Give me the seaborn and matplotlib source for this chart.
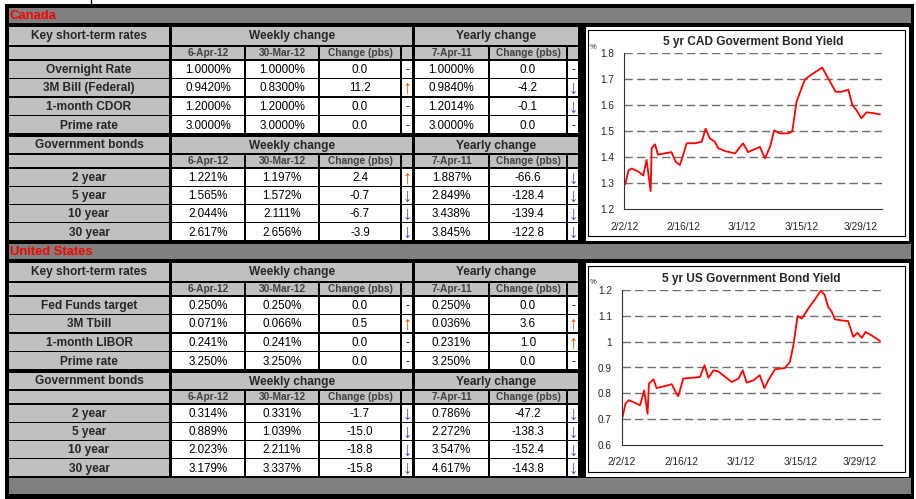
import pandas as pd
import matplotlib
matplotlib.use("Agg")
import matplotlib.pyplot as plt
from matplotlib.patches import Rectangle
from matplotlib.ticker import FuncFormatter
import seaborn as sns

sns.set_style("white")
plt.rcParams['font.family'] = ['Liberation Sans', 'DejaVu Sans']

# ---- table data ----
sub_headers = ["6-Apr-12", "30-Mar-12", "Change (pbs)", "", "7-Apr-11", "Change (pbs)", ""]

ca_short_names = ["Overnight Rate", "3M Bill (Federal)", "1-month CDOR", "Prime rate"]
ca_short_now = [1.0000, 0.9420, 1.2000, 3.0000]
ca_short_week = [1.0000, 0.8300, 1.2000, 3.0000]
ca_short_wchg = [0.0, 11.2, 0.0, 0.0]
ca_short_year = [1.0000, 0.9840, 1.2014, 3.0000]
ca_short_ychg = [0.0, -4.2, -0.1, 0.0]

ca_bond_names = ["2 year", "5 year", "10 year", "30 year"]
ca_bond_now = [1.221, 1.565, 2.044, 2.617]
ca_bond_week = [1.197, 1.572, 2.111, 2.656]
ca_bond_wchg = [2.4, -0.7, -6.7, -3.9]
ca_bond_year = [1.887, 2.849, 3.438, 3.845]
ca_bond_ychg = [-66.6, -128.4, -139.4, -122.8]

us_short_names = ["Fed Funds target", "3M Tbill", "1-month LIBOR", "Prime rate"]
us_short_now = [0.250, 0.071, 0.241, 3.250]
us_short_week = [0.250, 0.066, 0.241, 3.250]
us_short_wchg = [0.0, 0.5, 0.0, 0.0]
us_short_year = [0.250, 0.036, 0.231, 3.250]
us_short_ychg = [0.0, 3.6, 1.0, 0.0]

us_bond_names = ["2 year", "5 year", "10 year", "30 year"]
us_bond_now = [0.314, 0.889, 2.023, 3.179]
us_bond_week = [0.331, 1.039, 2.211, 3.337]
us_bond_wchg = [-1.7, -15.0, -18.8, -15.8]
us_bond_year = [0.786, 2.272, 3.547, 4.617]
us_bond_ychg = [-47.2, -138.3, -152.4, -143.8]

# ---- chart data (days after 2/2/12, yield %) ----
cad_days = [0.2, 1.0, 1.8, 3.3, 4.5, 5.3, 6.25, 6.5, 7.3, 8.0, 9.6, 11.2, 12.2, 13.2, 14.0,
            14.8, 16.8, 18.4, 19.3, 20.3, 21.5, 22.3, 23.9, 26.3, 28.2, 29.4, 32.2, 33.4,
            34.6, 35.6, 36.9, 38.9, 39.9, 40.9, 42.9, 44.9, 47.0, 48.4, 50.2, 51.6, 53.2,
            54.2, 55.1, 56.3, 57.5, 59.1, 60.7]
cad_yield = [1.296, 1.35, 1.357, 1.345, 1.33, 1.39, 1.27, 1.435, 1.45, 1.41, 1.415, 1.42,
             1.383, 1.37, 1.41, 1.454, 1.454, 1.46, 1.51, 1.473, 1.46, 1.435, 1.424, 1.415,
             1.454, 1.42, 1.44, 1.396, 1.44, 1.504, 1.492, 1.492, 1.50, 1.614, 1.70, 1.723,
             1.745, 1.704, 1.652, 1.652, 1.66, 1.60, 1.582, 1.55, 1.573, 1.57, 1.565]

us_days = [0.2, 0.9, 1.7, 3.1, 4.3, 5.3, 6.1, 6.4, 7.5, 8.2, 10.2, 11.8, 12.5, 13.3, 14.5,
           16.5, 18.4, 19.5, 20.4, 21.6, 22.7, 25.9, 27.5, 28.5, 29.4, 31.0, 32.5, 33.6,
           34.5, 36.1, 38.4, 39.6, 40.4, 41.4, 42.4, 43.9, 45.5, 46.9, 47.8, 48.6, 49.4,
           50.2, 51.8, 53.3, 54.5, 55.5, 56.5, 57.4, 58.8, 60.8]
us_yield = [0.708, 0.76, 0.773, 0.763, 0.753, 0.811, 0.72, 0.837, 0.854, 0.82, 0.828, 0.835,
            0.811, 0.788, 0.857, 0.86, 0.863, 0.909, 0.86, 0.889, 0.885, 0.844, 0.857, 0.889,
            0.841, 0.85, 0.87, 0.82, 0.85, 0.893, 0.898, 0.922, 0.986, 1.10, 1.09, 1.129,
            1.165, 1.20, 1.181, 1.135, 1.118, 1.087, 1.083, 1.08, 1.019, 1.035, 1.015, 1.038,
            1.025, 1.003]

tick_labels = ["2/2/12", "2/16/12", "3/1/12", "3/15/12", "3/29/12"]
start = pd.Timestamp("2012-02-02")

GRAY = "#c0c0c0"
DARK = "#808080"

fig = plt.figure(figsize=(9.16, 4.99), dpi=100)
bg = fig.add_axes([0, 0, 1, 1])
bg.set_xlim(0, 916)
bg.set_ylim(499, 0)
bg.axis("off")


def rect(x0, y0, x1, y1, fc, ec="none", lw=0):
    bg.add_patch(Rectangle((x0, y0), x1 - x0, y1 - y0, facecolor=fc, edgecolor=ec, linewidth=lw))


rect(5, 4, 914, 499, "black")
bg.plot([91, 91], [0, 5], color="black", lw=1)

cols = [(9, 169), (172, 244), (246, 318), (320, 400), (402, 412), (415, 488), (490, 566), (568, 578)]


def arrow(v):
    if v > 0:
        return "\u2191", "#c8600f"
    if v < 0:
        return "\u2193", "#3a55a8"
    return "-", "black"


def block(y_head, y_sub, rows, title, names, now, week, wchg, year, ychg, dec):
    # header row
    rect(cols[0][0], y_head[0], cols[0][1], y_head[1], GRAY)
    rect(cols[1][0], y_head[0], cols[4][1], y_head[1], GRAY)
    rect(cols[5][0], y_head[0], cols[7][1], y_head[1], GRAY)
    yc = (y_head[0] + y_head[1]) / 2 + 0.5
    bg.text(89, yc, title, ha="center", va="center", fontsize=8.6, fontweight="bold")
    bg.text((cols[1][0] + cols[4][1]) / 2, yc, "Weekly change", ha="center", va="center",
            fontsize=8.6, fontweight="bold")
    bg.text((cols[5][0] + cols[7][1]) / 2, yc, "Yearly change", ha="center", va="center",
            fontsize=8.6, fontweight="bold")
    # sub header
    rect(cols[0][0], y_sub[0], cols[0][1], y_sub[1], GRAY)
    for (c0, c1), s in zip(cols[1:], sub_headers):
        rect(c0, y_sub[0], c1, y_sub[1], GRAY)
        bg.text((c0 + c1) / 2, (y_sub[0] + y_sub[1]) / 2 + 0.5, s, ha="center", va="center",
                fontsize=7.3, fontweight="bold", color="#404040")
    # data rows
    for i, (r0, r1) in enumerate(rows):
        rect(cols[0][0], r0, cols[0][1], r1, GRAY)
        for c0, c1 in cols[1:]:
            rect(c0, r0, c1, r1, "white")
        yc = (r0 + r1) / 2 + 0.8
        bg.text(89, yc, names[i], ha="center", va="center", fontsize=8.6, fontweight="bold")
        wa, wcol = arrow(wchg[i])
        ya, ycol = arrow(ychg[i])
        vals = [(f"{now[i]:.{dec}f}%", "black"), (f"{week[i]:.{dec}f}%", "black"),
                (f"{wchg[i]:.1f}", "black"), (wa, wcol),
                (f"{year[i]:.{dec}f}%", "black"), (f"{ychg[i]:.1f}", "black"), (ya, ycol)]
        for (c0, c1), (s, colr) in zip(cols[1:], vals):
            if s in ("\u2191", "\u2193"):
                bg.text((c0 + c1) / 2, yc + 1, s, ha="center", va="center", fontsize=13.5,
                        color=colr)
            else:
                bg.text((c0 + c1) / 2, yc, s, ha="center", va="center", fontsize=8.4,
                        color=colr)


def section(top, country, short_args, bond_args, dec_short):
    rect(9, top, 911, top + 15, DARK)
    bg.text(10, top + 7.5, country, ha="left", va="center", fontsize=9.4,
            fontweight="bold", color="#ff0000")
    rows1 = [(top + 52.5 + i * 18.6, top + 69.5 + i * 18.6) for i in range(4)]
    block((top + 18.5, top + 37), (top + 38.5, top + 51), rows1, "Key short-term rates",
          *short_args, dec_short)
    rows2 = [(top + 160.5 + i * 18.3, top + 177.5 + i * 18.3) for i in range(4)]
    block((top + 129, top + 145), (top + 146.5, top + 159), rows2, "Government bonds",
          *bond_args, 3)


section(8, "Canada",
        (ca_short_names, ca_short_now, ca_short_week, ca_short_wchg, ca_short_year, ca_short_ychg),
        (ca_bond_names, ca_bond_now, ca_bond_week, ca_bond_wchg, ca_bond_year, ca_bond_ychg), 4)
section(244, "United States",
        (us_short_names, us_short_now, us_short_week, us_short_wchg, us_short_year, us_short_ychg),
        (us_bond_names, us_bond_now, us_bond_week, us_bond_wchg, us_bond_year, us_bond_ychg), 3)

rect(9, 478, 911, 494, DARK)


def chart(panel, box, days, yields, title, yticks):
    px0, py0, px1, py1 = panel
    rect(px0, py0, px1, py1, "white")
    rect(px0 + 2, py0 + 3, px1 - 4, py1 - 5, "none", ec="black", lw=0.8)
    bg.text(px0 + 7, py0 + 20, "%", ha="center", va="center", fontsize=5.5)
    x0, y0, x1, y1 = box
    ax = fig.add_axes([x0 / 916, 1 - y1 / 499, (x1 - x0) / 916, (y1 - y0) / 499])
    df = pd.DataFrame({"date": start + pd.to_timedelta(days, unit="D"), "yield": yields})
    sns.lineplot(data=df, x="date", y="yield", ax=ax, color="#ff0000", lw=1.3)
    ax.set_facecolor("none")
    ax.set_xlim(start, start + pd.Timedelta(days=61.2))
    ax.set_ylim(yticks[0], yticks[-1])
    ax.set_yticks(yticks)
    ax.yaxis.set_major_formatter(FuncFormatter(lambda v, p: f"{v:g}"))
    ax.set_xticks(pd.to_datetime(tick_labels, format="%m/%d/%y"))
    ax.set_xticklabels(tick_labels)
    ax.set_xlabel("")
    ax.set_ylabel("")
    for yv in yticks[1:]:
        ax.axhline(yv, color="#707070", lw=1.0, ls=(0, (6, 3)), zorder=0)
    for s in ["top", "right"]:
        ax.spines[s].set_visible(False)
    for s in ["left", "bottom"]:
        ax.spines[s].set_color("#333333")
        ax.spines[s].set_linewidth(0.8)
    ax.tick_params(axis="x", length=4, width=0.8, color="#333333", labelsize=7.3, pad=5)
    ax.tick_params(axis="y", length=0, labelsize=7.2, pad=7)
    ax.set_title(title, fontsize=8.6, fontweight="bold", pad=6)
    return ax


chart((586, 27, 909, 241), (624.3, 53.3, 882, 209.3), cad_days, cad_yield,
      "5 yr CAD Goverment Bond Yield", [1.2, 1.3, 1.4, 1.5, 1.6, 1.7, 1.8])
chart((586, 263, 909, 477), (621.7, 290.3, 881.7, 444.7), us_days, us_yield,
      "5 yr US Government Bond Yield", [0.6, 0.7, 0.8, 0.9, 1.0, 1.1, 1.2])

fig.savefig("out.png", dpi=100)
